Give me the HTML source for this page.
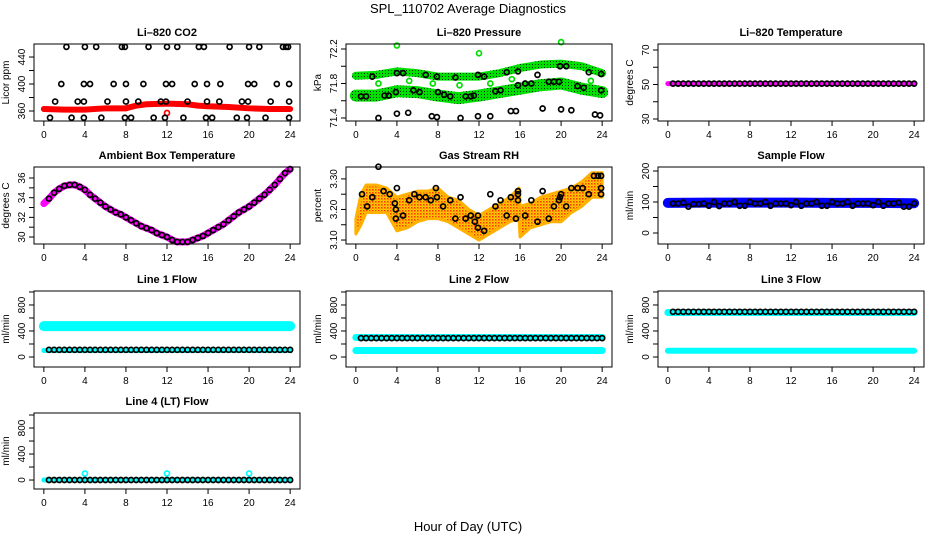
<!DOCTYPE html>
<html><head><meta charset="utf-8">
<style>
html,body{margin:0;padding:0;background:#fff;}
svg{display:block;font-family:"Liberation Sans",Arial,sans-serif;}
.tk{font-size:10px;fill:#000;}
.pt{font-size:11px;font-weight:bold;fill:#000;}
</style></head>
<body>
<svg id="chart" width="936" height="540" viewBox="0 0 936 540" xmlns="http://www.w3.org/2000/svg">
<defs>
<pattern id="greenPat" width="3" height="3" patternUnits="userSpaceOnUse"><rect width="3" height="3" fill="#00e000"/><rect x="1" y="1" width="1" height="1" fill="#003300"/></pattern>
<pattern id="rhPat" width="3" height="3" patternUnits="userSpaceOnUse"><rect width="3" height="3" fill="#ffd000"/><rect x="0" y="0" width="1.5" height="1.5" fill="#ff3000"/><rect x="1.5" y="1.5" width="1" height="1" fill="#ff6000"/></pattern>
</defs>
<text x="468" y="13" text-anchor="middle" font-size="13">SPL_110702  Average Diagnostics</text>
<text x="468" y="531" text-anchor="middle" font-size="13">Hour of Day (UTC)</text>
</svg>
<script>
// ---- shared data ----
const xTicks = [0,4,8,12,16,20,24];
const hoursHalf = [0.5,1,1.5,2,2.5,3,3.5,4,4.5,5,5.5,6,6.5,7,7.5,8,8.5,9,9.5,10,10.5,11,11.5,12,12.5,13,13.5,14,14.5,15,15.5,16,16.5,17,17.5,18,18.5,19,19.5,20,20.5,21,21.5,22,22.5,23,23.5,24];

// CO2
const co2Hours = [2.2,4,5.1,7.6,7.9,10.2,12,13,15.1,15.6,18.1,20,21,23.3,23.6,23.8,
 1.7,3.9,4.5,6.8,8,9.7,11.9,12.5,14.7,15.9,17.2,19.9,20.5,22.7,23.9,
 1.1,3.3,3.9,6.2,8,9.2,11.4,11.9,14,15.9,17.1,19.3,19.9,22.1,23.9,
 0.6,2.7,3.9,5.6,7.9,8.5,10.7,11.8,13.6,15.8,16.4,18.8,19.8,21.6,23.9];
const co2Values = [455,455,455,455,455,455,455,455,455,455,455,455,455,455,455,455,
 400,400,400,400,400,400,400,400,400,400,400,400,400,400,400,
 374,374,374,374,374,374,374,374,374,374,374,374,374,374,374,
 350,350,350,350,350,350,350,350,350,350,350,350,350,350,350];
const co2BandHours = [0,2,4,6,8,9,10,12,14,15,16,18,20,22,24];
const co2BandValues = [363,362,362,364,364,368,370,371,370,368,367,366,364,363,363];
const co2OutHours = [12];
const co2OutValues = [357];

// Pressure
const presBandHours = [0,2,4,6,8,10,12,14,16,18,20,22,24];
const presUpper = [71.89,71.9,71.94,71.92,71.88,71.88,71.88,71.92,71.98,72.02,72.03,72.0,71.92];
const presLower = [71.66,71.66,71.71,71.7,71.66,71.63,71.66,71.7,71.74,71.78,71.8,71.74,71.7];
const presHours = [0.5,1,1.6,2.2,2.8,3.2,3.9,4,4,4.6,5.1,5.6,6.2,6.8,7.4,7.9,7.9,8,8.6,9.2,9.7,10.2,10.7,11.2,11.5,11.9,11.9,12.5,13.1,13.6,14.1,14.7,15.1,15.6,15.8,15.8,16.5,17.1,17.7,18.2,18.8,19.3,19.8,20,19.9,20.5,21,21.6,22.2,22.7,23.3,23.8,23.9,23.9];
const presValues = [71.65,71.65,71.88,71.4,71.66,71.66,71.7,71.92,71.45,71.92,71.46,71.72,71.7,71.9,71.42,71.88,71.41,71.7,71.67,71.65,71.87,71.4,71.65,71.65,71.66,71.9,71.42,71.88,71.42,71.71,71.72,71.93,71.48,71.48,71.78,71.94,71.8,71.8,71.9,71.51,71.82,71.82,71.82,71.5,72.0,72.0,71.49,71.77,71.75,71.93,71.44,71.43,71.91,71.72];
const presOutHours = [4,12,20,2.2,5.2,7.5,10.1,13.1,15.2,22.9];
const presOutValues = [72.24,72.15,72.28,71.8,71.83,71.8,71.78,71.8,71.85,71.83];

// Li-820 temperature
const liTempBandHours = [0,24];
const liTempBandValues = [50.5,50.5];
const liTempValues = [50.5,50.5,50.5,50.5,50.5,50.5,50.5,50.5,50.5,50.5,50.5,50.5,50.5,50.5,50.5,50.5,50.5,50.5,50.5,50.5,50.5,50.5,50.5,50.5,50.5,50.5,50.5,50.5,50.5,50.5,50.5,50.5,50.5,50.5,50.5,50.5,50.5,50.5,50.5,50.5,50.5,50.5,50.5,50.5,50.5,50.5,50.5,50.5];

// Ambient
const ambHours = [0,0.5,1,1.5,2,2.5,3,3.5,4,4.5,5,5.5,6,6.5,7,7.5,8,8.5,9,9.5,10,10.5,11,11.5,12,12.5,13,13.5,14,14.5,15,15.5,16,16.5,17,17.5,18,18.5,19,19.5,20,20.5,21,21.5,22,22.5,23,23.5,24];
const ambValues = [33.4,33.9,34.5,34.9,35.2,35.3,35.3,35.1,34.8,34.3,33.9,33.5,33.1,32.8,32.5,32.3,32.0,31.7,31.4,31.1,30.9,30.7,30.4,30.2,30.0,29.7,29.5,29.5,29.5,29.7,29.9,30.1,30.4,30.7,31.0,31.3,31.7,32.1,32.5,32.8,33.1,33.5,33.9,34.3,34.8,35.3,35.9,36.5,36.9];

// RH
const rhBandHours = [0,0.5,1,2,3,4,5,6,7,8,9,10,11,12,13,14,15,15.9,16,17,18,19,20,21,22,23,24];
const rhLow = [3.12,3.15,3.19,3.19,3.19,3.13,3.14,3.16,3.17,3.17,3.16,3.14,3.12,3.1,3.12,3.14,3.16,3.17,3.11,3.14,3.15,3.16,3.16,3.19,3.21,3.24,3.24];
const rhHigh = [3.17,3.25,3.28,3.28,3.27,3.24,3.25,3.26,3.26,3.27,3.24,3.23,3.2,3.18,3.2,3.22,3.24,3.27,3.21,3.22,3.24,3.25,3.26,3.27,3.29,3.32,3.32];
const rhHours = [0.6,1.1,1.6,2.2,2.7,3.3,3.8,3.9,3.9,4,4.6,5.2,5.7,6.2,6.8,7.3,7.8,7.9,8.5,9.2,9.7,10.2,10.7,11.2,11.6,11.9,11.9,12.5,13.1,13.6,14.1,14.7,15.1,15.6,15.8,15.8,15.8,16.5,17.1,17.7,18.2,18.8,19.3,19.8,19.9,20,20.5,21,21.6,22.1,22.7,23.2,23.6,23.9,23.9,23.9];
const rhValues = [3.25,3.21,3.24,3.34,3.26,3.25,3.22,3.17,3.2,3.27,3.18,3.23,3.25,3.24,3.24,3.23,3.27,3.24,3.21,3.23,3.17,3.24,3.17,3.18,3.16,3.18,3.14,3.13,3.25,3.21,3.23,3.18,3.24,3.17,3.23,3.25,3.26,3.18,3.23,3.16,3.26,3.17,3.21,3.23,3.24,3.25,3.21,3.27,3.27,3.27,3.25,3.31,3.31,3.31,3.27,3.25];

// Sample flow
const sfBandHours = [0,4,8,12,16,20,24];
const sfBandValues = [97,98,98,98,97,97,96];
const sfValues = [95,95,98,85,93,93,95,88,100,87,95,95,100,88,88,100,95,95,100,88,95,95,95,90,100,88,95,95,100,88,88,100,95,95,100,88,95,95,95,90,100,88,95,95,98,85,85,95];

// Line flows
const flowBandHours = [0,24];
const line1Upper = [475,475];
const line1Lower = [100,100];
const line1Values = [110,110,110,110,110,110,110,110,110,110,110,110,110,110,110,110,110,110,110,110,110,110,110,110,110,110,110,110,110,110,110,110,110,110,110,110,110,110,110,110,110,110,110,110,110,110,110,110];
const line2Upper = [300,300];
const line2Lower = [100,100];
const line2Values = [290,290,290,290,290,290,290,290,290,290,290,290,290,290,290,290,290,290,290,290,290,290,290,290,290,290,290,290,290,290,290,290,290,290,290,290,290,290,290,290,290,290,290,290,290,290,290,290];
const line3Upper = [685,685];
const line3Lower = [95,95];
const line3Values = [695,695,695,695,695,695,695,695,695,695,695,695,695,695,695,695,695,695,695,695,695,695,695,695,695,695,695,695,695,695,695,695,695,695,695,695,695,695,695,695,695,695,695,695,695,695,695,695];
const line4Band = [0,0];
const line4OutHours = [4,12,20];
const line4OutValues = [100,100,100];
const line4Values = [0,0,0,0,0,0,0,0,0,0,0,0,0,0,0,0,0,0,0,0,0,0,0,0,0,0,0,0,0,0,0,0,0,0,0,0,0,0,0,0,0,0,0,0,0,0,0,0];

// tick arrays
const co2Ticks=[360,380,400,420,440], co2Labels=["360","","400","","440"];
const presTicks=[71.4,71.6,71.8,72.0,72.2], presLabels=["71.4","","71.8","","72.2"];
const liTTicks=[30,40,50,60,70], liTLabels=["30","","50","","70"];
const ambTicks=[30,31,32,33,34,35,36], ambLabels=["30","","32","","34","","36"];
const rhTicks=[3.10,3.15,3.20,3.25,3.30], rhLabels=["3.10","","3.20","","3.30"];
const sfTicks=[0,50,100,150,200], sfLabels=["0","","100","","200"];
const flTicks=[0,200,400,600,800,1000], flLabels=["0","","400","","800",""];

const NS="http://www.w3.org/2000/svg";
const svg=document.getElementById('chart');
function mk(tag,attrs,parent){const e=document.createElementNS(NS,tag);for(const k in attrs)e.setAttribute(k,attrs[k]);(parent||svg).appendChild(e);return e;}

function panel(name,title,ytitle,left,top,h,ymin,ymax,ticks,labels){
  const g=mk('g',{});
  
  
  const w=266;
  const P={g:g,x:v=>left+(v+0.96)/25.92*w,y:v=>top+h-(v-ymin)/(ymax-ymin)*h,left:left,top:top,h:h};
  const t=mk('text',{x:left+w/2,y:top-8,'text-anchor':'middle',class:'pt'},g);t.textContent=title;
  
  
  const yt=mk('text',{x:0,y:0,'text-anchor':'middle',class:'tk',transform:`translate(${left-25},${top+h/2}) rotate(-90)`},g);yt.textContent=ytitle;
  
  
  const ax=mk('g',{},g);
  
  
  mk('line',{x1:P.x(0),x2:P.x(24),y1:top+h,y2:top+h,stroke:'#000'},ax);
  xTicks.forEach(v=>{mk('line',{x1:P.x(v),x2:P.x(v),y1:top+h,y2:top+h+5,stroke:'#000'},ax);
    const l=mk('text',{x:P.x(v),y:top+h+17,'text-anchor':'middle',class:'tk'},ax);l.textContent=v;});
  const ay=mk('g',{},g);
  
  
  mk('line',{x1:left,x2:left,y1:P.y(ticks[0]),y2:P.y(ticks[ticks.length-1]),stroke:'#000'},ay);
  ticks.forEach((v,i)=>{mk('line',{x1:left-5,x2:left,y1:P.y(v),y2:P.y(v),stroke:'#000'},ay);
    if(labels[i]){const l=mk('text',{x:0,y:0,'text-anchor':'middle',class:'tk',transform:`translate(${left-9},${P.y(v)}) rotate(-90)`},ay);l.textContent=labels[i];}});
  P.plot=mk('g',{},g);
  return P;
}
function finish(P){mk('rect',{x:P.left,y:P.top,width:266,height:P.h,fill:'none',stroke:'#000'},P.g);}
function band(P,name,hs,vs,color,width){
  const pl=mk('polyline',{points:hs.map((h,i)=>P.x(h)+','+P.y(vs[i])).join(' '),fill:'none',stroke:color,'stroke-width':width,'stroke-linecap':'round','stroke-linejoin':'round'},P.plot);
  
  
}
function area(P,name,hs,lo,hi,fill){
  const pts=hs.map((h,i)=>P.x(h)+','+P.y(hi[i])).concat(hs.map((h,i)=>P.x(h)+','+P.y(lo[i])).reverse());
  const pg=mk('polygon',{points:pts.join(' '),fill:fill,stroke:'#ffb000','stroke-width':3,'stroke-linejoin':'round'},P.plot);
  
  
}
function pts(P,name,hs,vs,color){
  const g=mk('g',{},P.plot);
  
  
  hs.forEach((h,i)=>{const c=mk('circle',{cx:P.x(h),cy:P.y(vs[i]),r:2.5,fill:'none',stroke:color,'stroke-width':1.7},g);
    
    });
}

const C=[34,346,658], R=[[44,77],[167,77],[291,76],[413,76]];
let P;
P=panel('co2','Li\u2013820 CO2','Licor ppm',C[0],R[0][0],R[0][1],345.2,459.3,co2Ticks,co2Labels);
band(P,'co2-band',co2BandHours,co2BandValues,'#ff0000',6);pts(P,'co2-outlier',co2OutHours,co2OutValues,'#ff0000');pts(P,'co2-hourly',co2Hours,co2Values,'#000');finish(P);

P=panel('pressure','Li\u2013820 Pressure','kPa',C[1],R[0][0],R[0][1],71.365,72.258,presTicks,presLabels);
band(P,'pressure-upper-band',presBandHours,presUpper,'url(#greenPat)',8);band(P,'pressure-lower-band',presBandHours,presLower,'url(#greenPat)',12);
pts(P,'pressure-outlier',presOutHours,presOutValues,'#00dd00');pts(P,'pressure-hourly',presHours,presValues,'#000');finish(P);

P=panel('li-temp','Li\u2013820 Temperature','degrees C',C[2],R[0][0],R[0][1],28.84,73.48,liTTicks,liTLabels);
band(P,'li-temp-band',liTempBandHours,liTempBandValues,'#ff00ff',5);pts(P,'li-temp-hourly',hoursHalf,liTempValues,'#000');finish(P);

P=panel('ambient','Ambient Box Temperature','degrees C',C[0],R[1][0],R[1][1],29.29,37.12,ambTicks,ambLabels);
band(P,'ambient-band',ambHours,ambValues,'#ff00ff',7);pts(P,'ambient-hourly',ambHours.slice(1),ambValues.slice(1),'#000');finish(P);

P=panel('rh','Gas Stream RH','percent',C[1],R[1][0],R[1][1],3.087,3.339,rhTicks,rhLabels);
area(P,'rh-band',rhBandHours,rhLow,rhHigh,'url(#rhPat)');pts(P,'rh-hourly',rhHours,rhValues,'#000');finish(P);

P=panel('sample-flow','Sample Flow','ml/min',C[2],R[1][0],R[1][1],-35.5,212.9,sfTicks,sfLabels);
band(P,'sample-flow-band',sfBandHours,sfBandValues,'#0000ff',10);pts(P,'sample-flow-hourly',hoursHalf,sfValues,'#000');finish(P);

P=panel('line1','Line 1 Flow','ml/min',C[0],R[2][0],R[2][1],-154,1015,flTicks,flLabels);
band(P,'line1-upper-band',flowBandHours,line1Upper,'#00ffff',10);band(P,'line1-lower-band',flowBandHours,line1Lower,'#00ffff',5);
pts(P,'line1-hourly',hoursHalf,line1Values,'#000');finish(P);

P=panel('line2','Line 2 Flow','ml/min',C[1],R[2][0],R[2][1],-154,1015,flTicks,flLabels);
band(P,'line2-upper-band',flowBandHours,line2Upper,'#00ffff',7);band(P,'line2-lower-band',flowBandHours,line2Lower,'#00ffff',7);
pts(P,'line2-hourly',hoursHalf,line2Values,'#000');finish(P);

P=panel('line3','Line 3 Flow','ml/min',C[2],R[2][0],R[2][1],-154,1015,flTicks,flLabels);
band(P,'line3-upper-band',flowBandHours,line3Upper,'#00ffff',7);band(P,'line3-lower-band',flowBandHours,line3Lower,'#00ffff',6);
pts(P,'line3-hourly',hoursHalf,line3Values,'#000');finish(P);

P=panel('line4','Line 4 (LT) Flow','ml/min',C[0],R[3][0],R[3][1],-138,1031,flTicks,flLabels);
band(P,'line4-band',flowBandHours,line4Band,'#00ffff',5);pts(P,'line4-outlier',line4OutHours,line4OutValues,'#00ffff');
pts(P,'line4-hourly',hoursHalf,line4Values,'#000');finish(P);
</script>
</body></html>
